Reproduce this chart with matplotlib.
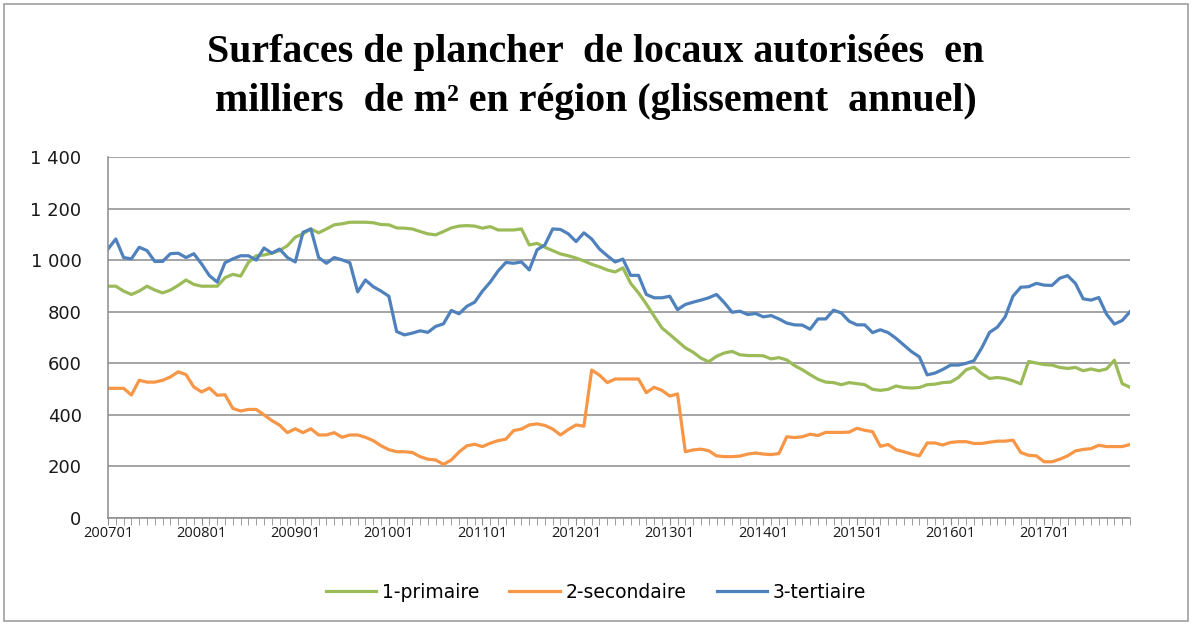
import matplotlib
matplotlib.use('Agg')
import matplotlib.pyplot as plt
from matplotlib.patches import Rectangle
from matplotlib.ticker import FuncFormatter, MultipleLocator
import numpy as np

# monthly categories 200701 .. 201712
years = list(range(2007, 2018))
months = [f'{y}{m:02d}' for y in years for m in range(1, 13)]

primaire = [899, 899, 880, 867, 880, 899, 884, 873, 884, 902, 923, 906,
            899, 899, 899, 932, 945, 938, 991, 1017, 1020, 1027, 1037, 1056,
            1089, 1102, 1121, 1106, 1121, 1137, 1141, 1147, 1147, 1147, 1145, 1138,
            1137, 1125, 1124, 1121, 1111, 1102, 1098, 1111, 1125, 1132, 1134, 1132,
            1124, 1130, 1117, 1117, 1117, 1121, 1059, 1065, 1050, 1037, 1024, 1017,
            1008, 997, 984, 974, 962, 954, 970, 910, 873, 830, 783, 737,
            712, 686, 660, 643, 620, 606, 627, 640, 646, 633, 630, 630,
            629, 617, 622, 613, 591, 575, 556, 538, 527, 525, 517, 525,
            521, 517, 499, 495, 499, 512, 506, 504, 506, 517, 519, 525,
            527, 545, 575, 585, 560, 541, 545, 541, 532, 520, 607, 601,
            595, 593, 584, 580, 584, 571, 578, 571, 578, 612, 521, 507]

secondaire = [503, 503, 503, 477, 534, 527, 527, 534, 547, 567, 556, 508,
              489, 504, 476, 478, 425, 415, 421, 421, 400, 378, 360, 331,
              346, 331, 346, 322, 322, 331, 313, 322, 322, 313, 300, 280,
              265, 257, 257, 254, 238, 228, 225, 208, 225, 256, 280, 286,
              277, 290, 300, 306, 339, 345, 361, 365, 359, 345, 322, 343,
              361, 356, 574, 554, 525, 539, 539, 539, 539, 486, 507, 495,
              473, 481, 257, 264, 267, 261, 241, 238, 238, 240, 248, 252,
              248, 246, 250, 315, 312, 315, 325, 320, 332, 332, 332, 333,
              348, 340, 335, 278, 285, 265, 257, 248, 241, 291, 291, 283,
              293, 296, 296, 289, 289, 294, 298, 298, 302, 254, 243, 241,
              218, 218, 228, 241, 260, 266, 269, 282, 277, 277, 277, 285]

tertiaire = [1043, 1082, 1010, 1005, 1050, 1037, 995, 995, 1025, 1027, 1010, 1025,
             985, 940, 915, 990, 1005, 1017, 1017, 1000, 1047, 1027, 1043, 1010,
             993, 1108, 1121, 1010, 988, 1010, 1001, 990, 877, 923, 897, 880,
             860, 723, 710, 717, 726, 720, 743, 753, 805, 792, 821, 837,
             880, 915, 958, 991, 988, 993, 962, 1040, 1059, 1121, 1119, 1102,
             1072, 1106, 1082, 1043, 1017, 993, 1004, 941, 941, 867, 854, 854,
             860, 808, 828, 837, 845, 854, 867, 835, 798, 802, 789, 793,
             780, 785, 772, 756, 749, 748, 732, 772, 772, 806, 795, 763,
             749, 749, 719, 730, 719, 697, 671, 645, 625, 555, 562, 576,
             593, 593, 600, 610, 660, 720, 740, 780, 860, 895, 897, 910,
             903, 902, 930, 940, 910, 850, 845, 855, 790, 752, 766, 800]

series = [('1-primaire', primaire, '#9BBB59'),
          ('2-secondaire', secondaire, '#F79646'),
          ('3-tertiaire', tertiaire, '#4F81BD')]

grid_col = '#8C8C8C'
W, H = 1192, 624

fig = plt.figure(figsize=(W / 100, H / 100), dpi=100)
ax = fig.add_axes([108 / W, 1 - 518 / H, (1130 - 108) / W, (518 - 157) / H])

x = np.arange(len(months))
for name, vals, col in series:
    ax.plot(x, vals, color=col, lw=2.3, label=name, solid_joinstyle='round')

ax.set_xlim(0, len(months) - 1)
ax.set_ylim(0, 1400)
ax.yaxis.set_major_locator(MultipleLocator(200))
ax.yaxis.set_major_formatter(FuncFormatter(lambda v, p: f'{int(v):,}'.replace(',', ' ')))
ax.grid(axis='y', color=grid_col, lw=1.1)
ax.set_axisbelow(True)

ax.set_xticks(x[::12])
ax.set_xticklabels(months[::12])
ax.set_xticks(x, minor=True)

for s in ['top', 'right']:
    ax.spines[s].set_visible(False)
for s in ['left', 'bottom']:
    ax.spines[s].set_color(grid_col)
    ax.spines[s].set_linewidth(1.1)

ax.tick_params(axis='y', length=0, pad=19, labelsize=13, labelcolor='#1a1a1a')
ax.tick_params(axis='x', which='both', direction='out', length=5, color=grid_col,
               labelsize=10.5, labelcolor='#1a1a1a', pad=1)
for lab in ax.get_yticklabels():
    lab.set_family('DejaVu Sans')
for lab in ax.get_xticklabels():
    lab.set_family('Open Sans')

fig.text(0.5, 1 - 77 / H,
         'Surfaces de plancher  de locaux autorisées  en\nmilliers  de m² en région (glissement  annuel)',
         ha='center', va='center', fontsize=28.7, fontweight='bold',
         family='Liberation Serif', linespacing=1.4)

fig.legend(loc='center', bbox_to_anchor=(0.5, 1 - 592 / H), ncol=3, frameon=False,
           prop={'family': 'DejaVu Sans', 'size': 13.5}, handlelength=2.7,
           columnspacing=1.6, handletextpad=0.3)

fig.patches.append(Rectangle((4 / W, 3 / H), (W - 8) / W, (H - 7) / H,
                             transform=fig.transFigure, fill=False,
                             edgecolor='#A0A0A0', lw=1.2))

fig.savefig('out.png', dpi=100)
